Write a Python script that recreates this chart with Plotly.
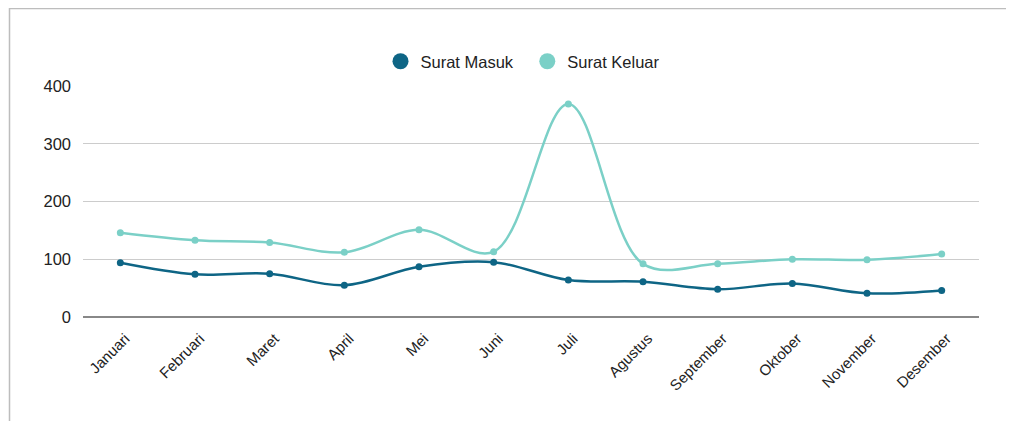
import plotly.graph_objects as go

months = ["Januari", "Februari", "Maret", "April", "Mei", "Juni", "Juli",
          "Agustus", "September", "Oktober", "November", "Desember"]
surat_masuk = [94, 74, 75, 55, 87, 95, 64, 61, 48, 58, 41, 46]
surat_keluar = [146, 133, 129, 112, 151, 113, 369, 92, 92, 100, 99, 109]
y_ticks = [0, 100, 200, 300, 400]

c_masuk = "#0E6585"
c_keluar = "#7BD0C7"

fig = go.Figure()
for name, vals, col in [("Surat Masuk", surat_masuk, c_masuk), ("Surat Keluar", surat_keluar, c_keluar)]:
    fig.add_trace(go.Scatter(x=months, y=vals, mode="lines+markers", name=name,
                             line=dict(color=col, width=2.5, shape="spline", smoothing=1.0),
                             marker=dict(color=col, size=7), showlegend=False))
for name, col in [("Surat Masuk", c_masuk), ("Surat Keluar", c_keluar)]:
    fig.add_trace(go.Scatter(x=[None], y=[None], mode="markers", name=name + "  ",
                             marker=dict(color=col, size=17, symbol="circle")))

OFF = 8  # page offset of the figure (body margin)
W, H = 1014, 421
L = 83 - OFF
T = 86 - OFF
R = W - (979 - OFF)
B = H - (317 - OFF)
pw, ph = W - L - R, H - T - B

def px_x(p):
    return (p - OFF - L) / pw

def px_y(p):
    return (H - B - (p - OFF)) / ph

fig.add_shape(type="rect", xref="paper", yref="paper",
              x0=px_x(9.5), x1=px_x(1013), y0=px_y(440), y1=px_y(8.5),
              line=dict(color="#BDBDBD", width=1.5), fillcolor="rgba(0,0,0,0)", layer="below")

fig.update_layout(
    width=W, height=H,
    margin=dict(l=L, r=R, t=T, b=B, autoexpand=False),
    paper_bgcolor="white", plot_bgcolor="white",
    font=dict(family="Liberation Sans, Arial, sans-serif", color="#222"),
    legend=dict(orientation="h", x=px_x(527), xanchor="center", y=px_y(44), yanchor="top",
                font=dict(size=16.5, color="#222"), itemwidth=30, traceorder="normal"),
    xaxis=dict(range=[-0.5, 11.5], tickangle=-45, tickfont=dict(size=15), showgrid=False,
               automargin=False, showline=False, ticks="", zeroline=False,
               ticklabelstandoff=9, ticklabelshift=5),
    yaxis=dict(range=[0, 400], tickvals=y_ticks, tickfont=dict(size=16.5), automargin=False,
               gridcolor="#CCCCCC", gridwidth=1, zeroline=True, zerolinecolor="#888888",
               zerolinewidth=1.5, showline=False, ticks="", ticklen=0, ticklabelstandoff=11),
)
fig.write_html("out.html")
